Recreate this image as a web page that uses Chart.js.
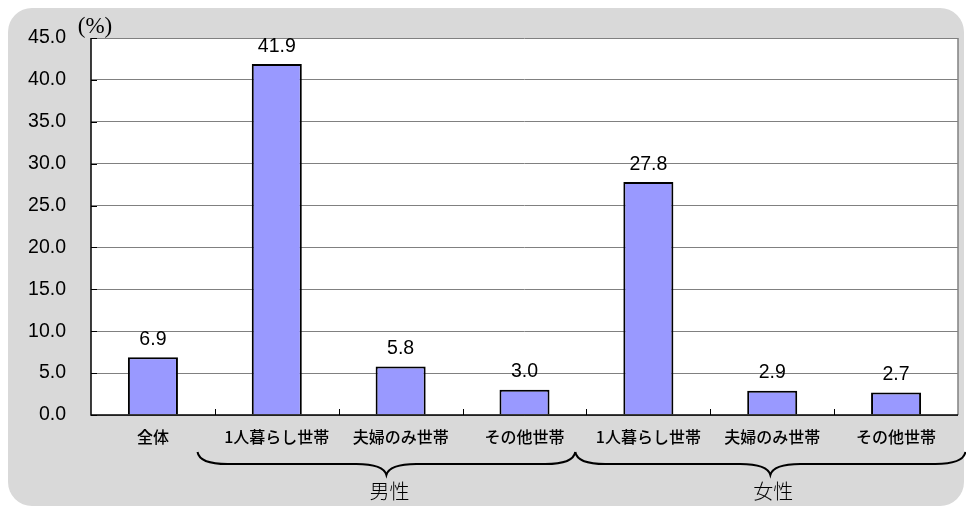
<!DOCTYPE html>
<html lang="ja">
<head>
  <meta charset="UTF-8">
  <title>世帯類型別の割合</title>
  <script src="https://cdn.jsdelivr.net/npm/chart.js"></script>
  <style>
    html, body {
      margin: 0;
      padding: 0;
      background: #fff;
      width: 966px;
      height: 509px;
      overflow: hidden;
    }
    .card {
      position: absolute;
      left: 8px;
      top: 8px;
      width: 956px;
      height: 498px;
      border-radius: 24px;
      background: #d9d9d9;
    }
    .wrap {
      position: absolute;
      left: 0;
      top: 0;
      width: 966px;
      height: 509px;
    }
  </style>
</head>
<body>
  <div class="card"></div>
  <div class="wrap"><canvas id="chart"></canvas></div>

  <script>
    const categories = ['全体', '1人暮らし世帯', '夫婦のみ世帯', 'その他世帯', '1人暮らし世帯', '夫婦のみ世帯', 'その他世帯'];
    const values = [6.9, 41.9, 5.8, 3.0, 27.8, 2.9, 2.7];
    const yTicks = [0, 5, 10, 15, 20, 25, 30, 35, 40, 45];
    const groupLabels = ['男性', '女性'];

    const jp = "'Noto Sans CJK JP', sans-serif";
    const latin = "'Liberation Sans', Arial, sans-serif";

    // plot background, frame, inner ticks, value labels, unit, braces
    const decor = {
      id: 'decor',
      beforeDraw(chart) {
        const { ctx, chartArea: a } = chart;
        ctx.save();
        ctx.fillStyle = '#fff';
        ctx.fillRect(a.left, a.top, a.right - a.left, a.bottom - a.top);
        ctx.restore();
      },
      afterDraw(chart) {
        const { ctx, chartArea: a } = chart;
        const x = chart.scales.x, y = chart.scales.y;
        ctx.save();

        // right frame
        ctx.strokeStyle = '#808080';
        ctx.lineWidth = 1.5;
        ctx.beginPath();
        ctx.moveTo(a.right, a.top);
        ctx.lineTo(a.right, a.bottom);
        ctx.stroke();

        // axes
        ctx.strokeStyle = '#000';
        ctx.lineWidth = 1.5;
        ctx.beginPath();
        ctx.moveTo(a.left, a.top);
        ctx.lineTo(a.left, a.bottom);
        ctx.lineTo(a.right, a.bottom);
        ctx.stroke();

        // inner tick marks
        ctx.lineWidth = 1;
        ctx.beginPath();
        for (let i = 0; i < categories.length - 1; i++) {
          const px = Math.round((x.getPixelForValue(i) + x.getPixelForValue(i + 1)) / 2) + 0.5;
          ctx.moveTo(px, a.bottom);
          ctx.lineTo(px, a.bottom - 6);
        }
        yTicks.forEach(v => {
          const py = Math.round(y.getPixelForValue(v)) + 0.5;
          ctx.moveTo(a.left, py);
          ctx.lineTo(a.left + 6, py);
        });
        ctx.stroke();

        // value labels
        ctx.fillStyle = '#000';
        ctx.font = '19.5px ' + latin;
        ctx.textAlign = 'center';
        ctx.textBaseline = 'bottom';
        values.forEach((v, i) => {
          ctx.fillText(v.toFixed(1), x.getPixelForValue(i), y.getPixelForValue(v) - 8);
        });

        // unit
        ctx.font = "23px 'Liberation Serif', 'DejaVu Serif', serif";
        ctx.textBaseline = 'middle';
        ctx.fillText('(%)', a.left + 4, a.top - 11);

        // group braces
        const step = x.getPixelForValue(1) - x.getPixelForValue(0);
        const spans = [
          [x.getPixelForValue(0) + 0.36 * step, x.getPixelForValue(3) + 0.41 * step],
          [x.getPixelForValue(3) + 0.41 * step, x.getPixelForValue(6) + 0.56 * step]
        ];
        const yLine = a.bottom + 49, yEnd = a.bottom + 37, yTip = a.bottom + 60;
        ctx.strokeStyle = '#000';
        ctx.lineWidth = 2;
        spans.forEach((s, k) => {
          const [x0, x1] = s;
          const mid = (x0 + x1) / 2;
          const r = 20;
          ctx.beginPath();
          ctx.moveTo(x0, yEnd);
          ctx.quadraticCurveTo(x0 + 2, yLine, x0 + r * 1.5, yLine);
          ctx.lineTo(mid - r * 1.5, yLine);
          ctx.quadraticCurveTo(mid - 3, yLine, mid, yTip);
          ctx.quadraticCurveTo(mid + 3, yLine, mid + r * 1.5, yLine);
          ctx.lineTo(x1 - r * 1.5, yLine);
          ctx.quadraticCurveTo(x1 - 2, yLine, x1, yEnd);
          ctx.stroke();

          ctx.font = '300 20px ' + jp;
          ctx.fillStyle = '#000';
          ctx.textAlign = 'center';
          ctx.textBaseline = 'middle';
          ctx.fillText(groupLabels[k], mid + 3, a.bottom + 76);
        });

        ctx.restore();
      }
    };

    new Chart(document.getElementById('chart'), {
      type: 'bar',
      data: {
        labels: categories,
        datasets: [{
          data: values,
          backgroundColor: '#9999ff',
          borderColor: '#000',
          borderWidth: 2,
          borderSkipped: 'bottom',
          categoryPercentage: 1,
          barPercentage: 0.404
        }]
      },
      options: {
        responsive: true,
        maintainAspectRatio: false,
        animation: false,
        layout: { padding: { top: 38, right: 8, left: 0, bottom: 0 } },
        plugins: {
          legend: { display: false },
          tooltip: { enabled: false }
        },
        scales: {
          x: {
            grid: { display: false, drawTicks: false },
            border: { display: false },
            ticks: {
              color: '#000',
              padding: 12,
              maxRotation: 0,
              autoSkip: false,
              font: { family: jp, size: 16, weight: 500 }
            },
            afterFit(scale) { scale.height = 94; }
          },
          y: {
            min: 0,
            max: 45,
            afterBuildTicks(scale) { scale.ticks = yTicks.map(v => ({ value: v })); },
            grid: { color: '#808080', lineWidth: 1, drawTicks: false },
            border: { display: false },
            ticks: {
              color: '#000',
              padding: 25,
              font: { family: latin, size: 19.5 },
              callback: v => Number(v).toFixed(1)
            },
            afterFit(scale) { scale.width = 91; }
          }
        }
      },
      plugins: [decor]
    });
  </script>
</body>
</html>
